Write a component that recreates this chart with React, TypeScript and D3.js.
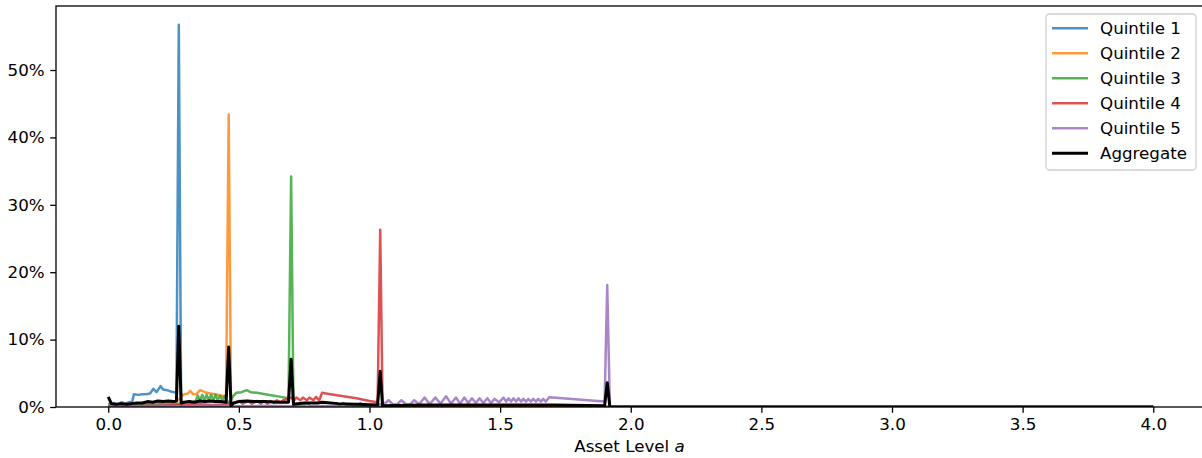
import React, { useEffect, useRef } from "react"
import * as d3 from "d3"

// asset level a, share of households in %
const quintile1: [number, number][] = [
  [0, 0.4], [0.02, 0.6], [0.035, 0.3], [0.05, 0.7], [0.065, 0.5], [0.08, 0.7], [0.092, 0.8],
  [0.098, 1.9], [0.115, 1.8], [0.13, 1.9], [0.145, 1.9], [0.16, 2.0], [0.173, 2.7], [0.185, 2.2],
  [0.2, 3.1], [0.21, 2.6], [0.225, 2.5], [0.24, 2.3], [0.252, 2.2], [0.261, 2.1],
  [0.27, 56.7], [0.279, 0], [4, 0],
]

const quintile2: [number, number][] = [
  [0, 0.2], [0.02, 0.4], [0.04, 0.3], [0.06, 0.5], [0.08, 0.3], [0.1, 0.5], [0.12, 0.4],
  [0.14, 0.6], [0.16, 0.5], [0.18, 0.7], [0.2, 0.6], [0.22, 0.8], [0.24, 0.7], [0.26, 0.8],
  [0.277, 1.4], [0.29, 1.9], [0.305, 2.0], [0.314, 2.4], [0.325, 1.9], [0.337, 1.9],
  [0.352, 2.5], [0.37, 2.2], [0.39, 2.0], [0.41, 1.9], [0.43, 1.7], [0.451, 1.6],
  [0.461, 43.4], [0.47, 0], [4, 0],
]

const quintile3: [number, number][] = [
  [0, 0.2], [0.03, 0.3], [0.06, 0.2], [0.09, 0.4], [0.12, 0.3], [0.15, 0.4], [0.18, 0.3],
  [0.21, 0.5], [0.24, 0.4], [0.265, 0.5], [0.28, 0.5], [0.3, 0.7], [0.32, 0.6], [0.335, 0.9],
  [0.343, 1.7], [0.351, 1.0], [0.36, 1.8], [0.368, 1.0], [0.377, 1.8], [0.385, 1.0],
  [0.394, 1.8], [0.402, 1.0], [0.411, 1.8], [0.419, 1.0], [0.428, 1.7], [0.436, 1.0],
  [0.445, 1.6], [0.453, 1.0], [0.461, 0.6], [0.468, 1.0], [0.478, 1.6], [0.49, 2.1],
  [0.51, 2.2], [0.53, 2.5], [0.545, 2.2], [0.57, 2.1], [0.6, 1.9], [0.63, 1.7], [0.66, 1.5],
  [0.69, 1.3], [0.7, 34.2], [0.709, 0], [4, 0],
]

const quintile4: [number, number][] = [
  [0, 0.1], [0.05, 0.2], [0.1, 0.1], [0.15, 0.2], [0.2, 0.2], [0.25, 0.3], [0.3, 0.3],
  [0.35, 0.4], [0.4, 0.3], [0.45, 0.4], [0.48, 0.6], [0.5, 0.9], [0.515, 0.5], [0.535, 0.9],
  [0.55, 0.5], [0.57, 0.9], [0.585, 0.5], [0.595, 0.9], [0.61, 0.5], [0.62, 0.9], [0.635, 0.6],
  [0.645, 1.0], [0.66, 0.7], [0.67, 1.0], [0.685, 1.2], [0.7, 1.4], [0.712, 1.0], [0.72, 1.4],
  [0.735, 1.0], [0.745, 1.4], [0.76, 1.0], [0.77, 1.4], [0.785, 1.0], [0.795, 1.5], [0.808, 1.0],
  [0.818, 2.1], [0.85, 1.9], [0.9, 1.6], [0.95, 1.3], [1.0, 0.9], [1.031, 0.7],
  [1.041, 26.3], [1.05, 0], [4, 0],
]

const quintile5: [number, number][] = [
  [0, 0.1], [0.1, 0.1], [0.2, 0.2], [0.3, 0.1], [0.4, 0.2], [0.5, 0.1], [0.6, 0.2], [0.7, 0.1],
  [0.745, 0.1], [0.76, 0.6], [0.775, 0.1], [0.88, 0.2], [0.9, 0.6], [0.915, 0.2], [0.95, 0.2],
  [0.965, 0.6], [0.98, 0.2], [1.03, 0.2], [1.041, 0.4], [1.055, 0.4], [1.073, 1.0], [1.09, 0.4],
  [1.105, 0.4], [1.122, 1.0], [1.14, 0.4], [1.155, 0.4], [1.171, 1.0], [1.19, 0.4], [1.211, 1.4],
  [1.23, 0.4], [1.252, 1.4], [1.272, 0.5], [1.293, 1.6], [1.312, 0.5], [1.331, 1.4], [1.347, 0.5],
  [1.363, 1.4], [1.378, 0.6], [1.392, 1.3], [1.407, 0.6], [1.421, 1.3], [1.436, 0.6], [1.451, 1.3],
  [1.465, 0.6], [1.479, 1.2], [1.496, 0.7], [1.513, 1.4], [1.523, 0.8], [1.532, 1.3], [1.542, 0.8],
  [1.551, 1.3], [1.561, 0.8], [1.57, 1.3], [1.58, 0.8], [1.589, 1.2], [1.599, 0.8], [1.608, 1.2],
  [1.618, 0.8], [1.627, 1.2], [1.637, 0.8], [1.646, 1.2], [1.656, 0.8], [1.665, 1.2], [1.675, 0.8],
  [1.688, 1.45], [1.75, 1.25], [1.8, 1.1], [1.85, 0.95], [1.9, 0.8], [1.91, 18.1], [1.92, 0],
  [4, 0],
]

const aggregate: [number, number][] = [
  [0, 1.5], [0.012, 0.5], [0.03, 0.4], [0.05, 0.5], [0.07, 0.4], [0.09, 0.5], [0.11, 0.6],
  [0.13, 0.6], [0.15, 0.8], [0.17, 0.7], [0.19, 0.9], [0.21, 0.8], [0.23, 0.9], [0.25, 0.8],
  [0.261, 0.9], [0.27, 12.0], [0.279, 0.6], [0.29, 0.7], [0.31, 0.8], [0.33, 0.7], [0.35, 0.9],
  [0.37, 0.8], [0.39, 0.9], [0.41, 0.8], [0.43, 0.8], [0.451, 0.7], [0.461, 8.9], [0.47, 0.2],
  [0.48, 0.6], [0.5, 0.8], [0.53, 0.9], [0.56, 0.8], [0.6, 0.8], [0.65, 0.7], [0.69, 0.7],
  [0.7, 7.1], [0.709, 0.4], [0.75, 0.6], [0.8, 0.6], [0.82, 0.7], [0.88, 0.5], [0.95, 0.4],
  [1.031, 0.3], [1.041, 5.3], [1.05, 0.2], [1.2, 0.3], [1.4, 0.3], [1.6, 0.3], [1.7, 0.3],
  [1.9, 0.2], [1.91, 3.6], [1.92, 0], [4, 0],
]

const seriesNames = ["Quintile 1", "Quintile 2", "Quintile 3", "Quintile 4", "Quintile 5", "Aggregate"]
const seriesColors = ["#1f77b4", "#ff7f0e", "#2ca02c", "#d62728", "#9467bd", "#000000"]
const xTicks = [0, 0.5, 1, 1.5, 2, 2.5, 3, 3.5, 4]
const yTicks = [0, 10, 20, 30, 40, 50]

const W = 1202
const H = 458
const margin = { top: 6, right: -3.5, bottom: 51, left: 56 }
const FONT = "'DejaVu Sans', sans-serif"

export default function App() {
  const xAxisRef = useRef<SVGGElement>(null)
  const yAxisRef = useRef<SVGGElement>(null)

  const width = W - margin.left - margin.right
  const height = H - margin.top - margin.bottom
  const series = [quintile1, quintile2, quintile3, quintile4, quintile5, aggregate]

  const x = d3.scaleLinear().domain([-0.2, 4.2]).range([0, width])
  const y = d3.scaleLinear().domain([0, 59.5]).range([height, 0])
  const line = d3.line<[number, number]>().x(d => x(d[0])).y(d => y(d[1]))

  useEffect(() => {
    const xa = d3.select(xAxisRef.current!)
    xa.call(d3.axisBottom(x).tickValues(xTicks).tickFormat(d3.format(".1f")).tickSize(5.8).tickPadding(5.5))
    const ya = d3.select(yAxisRef.current!)
    ya.call(d3.axisLeft(y).tickValues(yTicks).tickFormat(d => d + "%").tickSize(5.8).tickPadding(5.5))
    for (const a of [xa, ya]) {
      a.select(".domain").remove()
      a.selectAll("line").attr("stroke", "#000").attr("stroke-width", 1.3)
      a.selectAll("text").attr("fill", "#000").style("font-family", FONT).style("font-size", "16.7px")
    }
  }, [])

  const legendX = 1046
  const legendY = 14

  return (
    <svg width={W} height={H} style={{ position: "absolute", left: 0, top: 0, display: "block" }}>
      <rect width={W} height={H} fill="#fff" />
      <defs>
        <clipPath id="plot-clip">
          <rect x={0} y={0} width={width} height={height} />
        </clipPath>
      </defs>
      <g transform={"translate(" + margin.left + "," + margin.top + ")"}>
        <g clipPath="url(#plot-clip)">
          {series.map((s, i) => (
            <path
              key={i}
              d={line(s) || ""}
              fill="none"
              stroke={seriesColors[i]}
              strokeOpacity={i < 5 ? 0.8 : 1}
              strokeWidth={i < 5 ? 2.5 : 3}
              strokeLinejoin="round"
            />
          ))}
        </g>
        <rect x={0} y={0} width={width} height={height} fill="none" stroke="#000" strokeWidth={1.3} />
        <g ref={xAxisRef} transform={"translate(0," + height + ")"} />
        <g ref={yAxisRef} />
      </g>
      <text x={629.5} y={452} textAnchor="middle" fontFamily={FONT} fontSize={16.7} fill="#000">
        Asset Level <tspan fontStyle="italic">a</tspan>
      </text>
      <g>
        <rect x={legendX} y={legendY} width={150} height={156} rx={3.5} fill="#fff" fillOpacity={0.8} stroke="#d0d0d0" strokeWidth={1.3} />
        {seriesNames.map((name, i) => {
          const cy = 28.3 + i * 25
          return (
            <g key={name}>
              <line x1={1052} x2={1088} y1={cy} y2={cy} stroke={seriesColors[i]} strokeOpacity={i < 5 ? 0.8 : 1} strokeWidth={i < 5 ? 2.5 : 3} />
              <text x={1100} y={cy + 6} fontFamily={FONT} fontSize={16.7} fill="#000">{name}</text>
            </g>
          )
        })}
      </g>
    </svg>
  )
}
